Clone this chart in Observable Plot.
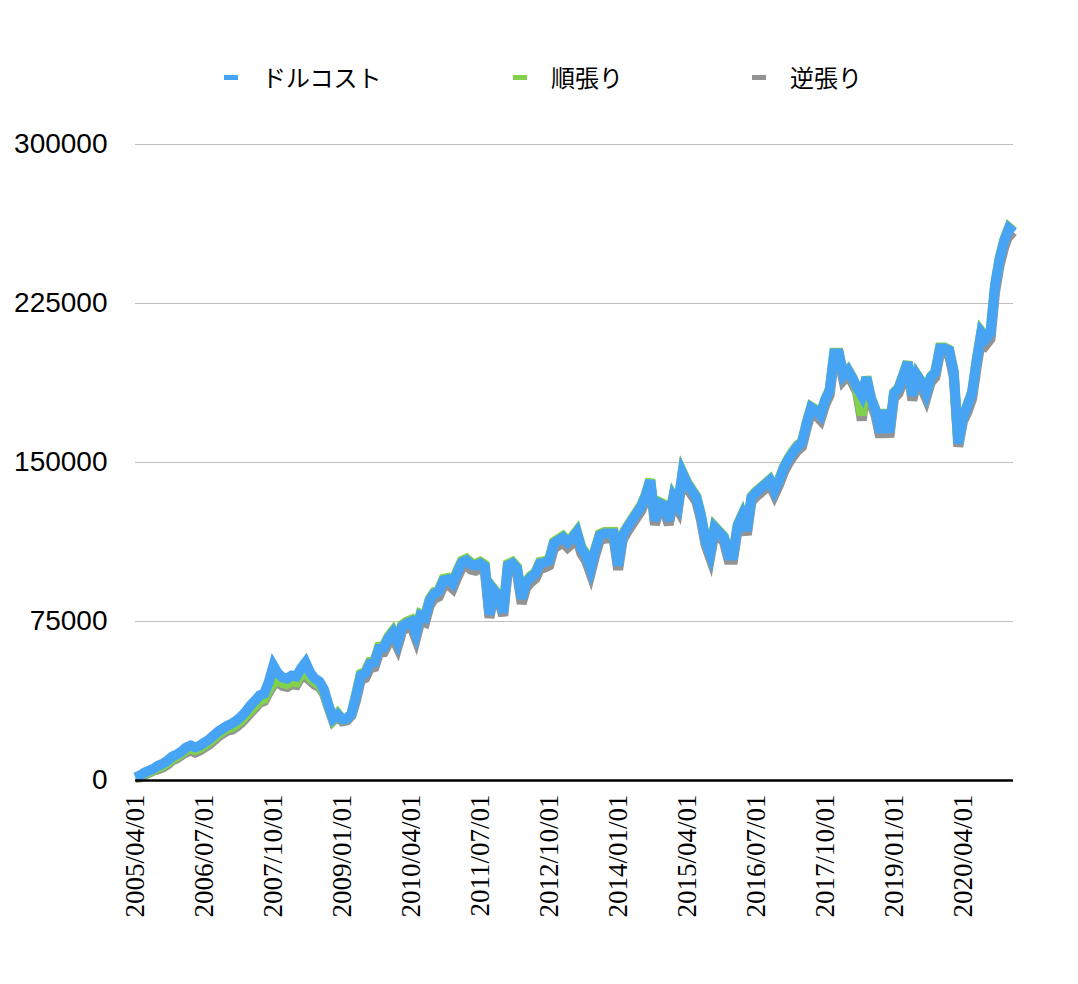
<!DOCTYPE html>
<html><head><meta charset="utf-8">
<script src="https://cdn.jsdelivr.net/npm/d3@7"></script>
<script src="https://cdn.jsdelivr.net/npm/@observablehq/plot@0.6"></script>
<style>
body{margin:0;background:#fff;width:1078px;height:984px;overflow:hidden;font-family:"Noto Sans CJK JP","Noto Sans",sans-serif}
#legend{position:relative;height:120px}
.item{position:absolute;top:62px;display:flex;align-items:center;font-size:24px;line-height:30px;color:#000;white-space:nowrap}
.sw{display:inline-block;width:14px;height:5px;margin-right:24px}
</style></head><body>
<div id="legend"></div>
<div id="chart"></div>
<script>
const seriesNames = ["ドルコスト", "順張り", "逆張り"];
const seriesColors = ["#47a4f4", "#82d14d", "#939393"];
const legendLeft = [224, 513, 752];
const yTicks = [0, 75000, 150000, 225000, 300000];
const xTickLabels = ["2005/04/01","2006/07/01","2007/10/01","2009/01/01","2010/04/01","2011/07/01","2012/10/01","2014/01/01","2015/04/01","2016/07/01","2017/10/01","2019/01/01","2020/04/01"];

// monthly categories 2005/04 .. 2021/03
const months = d3.utcMonth.range(new Date(Date.UTC(2005, 3, 1)), new Date(Date.UTC(2021, 3, 1))).map(d3.utcFormat("%Y/%m/%d"));

const dollarCost = [1400,2400,3800,4700,5700,7100,8000,9400,11300,12300,13700,15600,16500,15600,16500,17900,19300,21200,23100,24500,25900,26900,28300,30200,32500,35400,37700,40100,41000,46500,54200,50500,48600,48100,49500,49100,52800,55700,50900,48100,46700,42900,35400,29200,31100,28800,29200,31600,40100,49500,50500,55200,55700,62300,62700,67000,69800,65100,72600,74100,75000,69300,77800,76900,84900,88200,89200,94300,94800,92900,98100,102800,103800,101900,101400,102400,100900,78300,89600,86800,79200,101400,102400,100000,85800,93400,95800,97600,102400,102800,103800,111800,113200,114600,112300,114200,117000,109400,106100,100000,108500,115600,116500,116500,116500,101400,115600,119300,122600,125900,129200,134400,141500,122600,130700,129700,122600,133500,129700,144800,140100,136800,133500,125000,113200,107100,119300,117000,114600,106100,106100,120300,125000,117900,133500,135900,137700,139600,141500,136800,141500,147200,151400,154700,157600,159400,168400,175900,174500,172200,179200,184000,201400,201400,191000,193400,189600,185300,181600,190100,180200,174500,164200,174500,164200,182600,184900,191000,197200,181600,191000,187700,182600,190100,192500,203800,203800,202800,192500,159000,170800,176900,183000,198100,211300,208500,211300,233500,246200,254700,260400,258500];

const trendFollow = [1300,1900,3300,4200,5200,6100,7000,8400,10300,11300,12700,14300,15200,14300,15200,16600,18000,19900,21800,23200,24600,25100,26500,28400,30700,32900,35200,37600,38500,43000,46000,47800,45900,45400,46800,46400,50100,51000,48400,46400,45200,41900,35100,28900,31600,28800,29200,31600,40900,50300,51300,56000,56500,63100,63500,67800,70600,65900,73400,74900,75800,70100,78600,77700,85700,89000,90000,95100,95600,93700,98900,103600,104600,102700,102200,103200,101700,78900,90200,87400,79800,102100,103100,100700,86500,94100,96500,98300,103100,103500,104500,112500,113900,115300,113000,114900,117700,110100,106800,100700,109200,116300,117200,117200,117200,102000,116200,119900,123200,126500,129800,135000,142100,123200,131300,130300,123200,134100,130300,145400,140700,137400,134100,125600,113800,107600,119800,117500,115100,106600,106600,120800,125500,118400,134000,136400,138200,140100,142000,137300,142000,147700,151900,155200,158100,159900,168800,176300,174900,172600,179600,184400,201800,201800,191400,193800,190000,184300,172200,190500,180600,174900,164600,174900,164600,183000,185300,191400,197600,182000,191400,188100,183000,190500,192900,204200,204200,203200,192900,159200,171000,177400,183500,198600,211800,209000,211800,234000,246700,255200,260900,259000];

const contrarian = [1100,1400,2800,3700,4700,5300,6200,7600,9500,10500,11900,13200,14100,13200,14100,15500,16900,18800,20700,22100,23500,23900,25300,27200,29500,31900,34200,36600,37500,41700,45000,46500,44600,44100,45500,45100,48800,48900,47100,45100,44100,40900,34400,28200,30300,27900,28300,30700,37900,47300,48300,53000,53500,60100,60500,64800,67600,62900,70400,71900,72800,66900,75400,74500,82500,85800,86800,91900,92400,90500,95700,100400,101400,99500,99000,100000,98500,76800,88100,85300,77700,99000,100000,97600,83400,91000,93400,95200,100000,100400,101400,109400,110800,112200,109900,111800,114600,107000,103700,97600,106100,113200,114100,114100,114100,99400,113600,117300,120600,123900,127200,132400,139500,120600,128700,127700,120600,131500,127700,142800,138100,134800,131500,123000,111200,105100,117300,115000,112600,104100,104100,118300,123000,115900,131500,133900,135700,137600,139500,134800,139500,145200,149400,152700,155600,157400,166200,173700,172300,170000,177000,181800,199200,199200,188800,191200,187400,183000,169800,187800,177900,172200,161900,172200,161900,180300,182600,188700,194900,179300,188700,185400,180300,187800,190200,201500,201500,200500,190200,157500,169300,173900,180000,195100,208300,205500,208300,230500,243200,251700,257400,255500];

// legend
const legend = document.getElementById("legend");
seriesNames.forEach((name, k) => {
  const it = document.createElement("div");
  it.className = "item";
  it.style.left = legendLeft[k] + "px";
  const sw = document.createElement("span");
  sw.className = "sw";
  sw.style.background = seriesColors[k];
  const tx = document.createElement("span");
  tx.textContent = name;
  it.appendChild(sw); it.appendChild(tx);
  legend.appendChild(it);
});

const seriesValues = [dollarCost, trendFollow, contrarian];
const rows = [];
seriesNames.forEach((name, k) => {
  seriesValues[k].forEach((v, i) => rows.push({date: months[i], value: v, series: name}));
});

const lineOpts = (k) => ({
  filter: d => d.series === seriesNames[k],
  x: "date", y: "value",
  stroke: seriesColors[k], strokeWidth: 10,
  strokeLinejoin: "miter", strokeLinecap: "butt", strokeMiterlimit: 4,
  curve: "linear"
});

const chart = Plot.plot({
  width: 1078, height: 864,
  marginLeft: 135, marginRight: 65, marginTop: 24, marginBottom: 204,
  x: {type: "point", domain: months, padding: 0},
  y: {domain: [0, 300000]},
  style: {background: "white", color: "black", overflow: "visible"},
  marks: [
    Plot.ruleY(yTicks.filter(v => v > 0), {stroke: "#bfbfbf", strokeWidth: 1.2}),
    Plot.line(rows, lineOpts(2)),
    Plot.line(rows, lineOpts(1)),
    Plot.line(rows, lineOpts(0)),
    Plot.ruleY([0], {stroke: "black", strokeWidth: 2.5}),
    Plot.axisY({ticks: yTicks, tickSize: 0, tickPadding: 28, fontSize: 28, label: null, tickFormat: d => String(d), fontFamily: "Liberation Sans"}),
    Plot.axisX({ticks: xTickLabels, tickSize: 0, tickPadding: 14, tickRotate: -90, fontSize: 27, label: null, fontFamily: "Liberation Serif"})
  ]
});
document.getElementById("chart").appendChild(chart);
d3.select(chart).selectAll("text").each(function() {
  if (xTickLabels.includes(this.textContent.trim())) {
    this.style.fontFamily = "'Liberation Serif', serif";
  }
});
</script>
</body></html>
